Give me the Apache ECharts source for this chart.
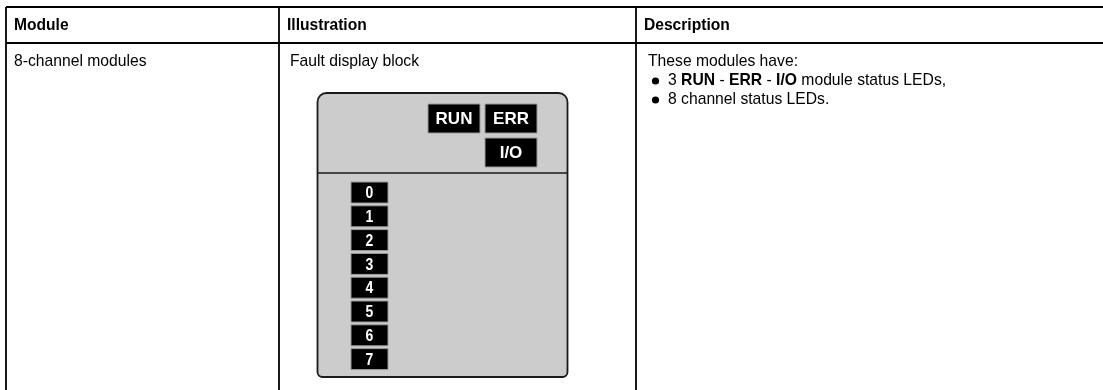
<!DOCTYPE html>
<html><head><meta charset="utf-8">
<script src="https://cdn.jsdelivr.net/npm/echarts@6/dist/echarts.min.js"></script>
<style>html,body{margin:0;padding:0;background:#fff}#c{width:1103px;height:390px}</style>
</head><body><div id="c"></div>
<script>
// ---- content ----
const headers = ['Module', 'Illustration', 'Description'];
const moduleNames = ['8-channel modules'];
const illustrationTitles = ['Fault display block'];
const descIntro = ['These modules have:'];
const descBullets = [
  '3 {b|RUN} - {b|ERR} - {b|I/O} module status LEDs,',
  '8 channel status LEDs.'
];
const statusLeds = ['RUN', 'ERR', 'I/O'];
const channelLeds = ['0', '1', '2', '3', '4', '5', '6', '7'];

(function () {
// ---- layout ----
const W = 1103, H = 390;
const FONT = '"Liberation Sans", Arial, Helvetica, sans-serif';
const tTop = 7, headBottom = 43, tLeft = 6;
const colX = [tLeft, 279, 636];
const pad = 8;
const lineW = 1.8;
const els = [];

// table lines
els.push({type: 'line', shape: {x1: tLeft, y1: tTop, x2: W, y2: tTop}, style: {stroke: '#000', lineWidth: lineW}});
els.push({type: 'line', shape: {x1: tLeft, y1: headBottom, x2: W, y2: headBottom}, style: {stroke: '#000', lineWidth: lineW}});
colX.forEach(x => els.push({type: 'line', shape: {x1: x, y1: tTop, x2: x, y2: H}, style: {stroke: '#000', lineWidth: lineW}}));

// headers
headers.forEach((h, i) => els.push({type: 'text', x: colX[i] + pad, y: (tTop + headBottom) / 2 + 1,
  style: {text: h, font: 'bold 15.6px ' + FONT, fill: '#000', verticalAlign: 'middle'}}));

const rowY = 62;
const bodyFont = '15.7px ' + FONT;
const boldFont = 'bold 15.7px ' + FONT;
els.push({type: 'text', x: colX[0] + pad, y: rowY, style: {text: moduleNames[0], font: bodyFont, fill: '#000', verticalAlign: 'middle'}});
els.push({type: 'text', x: colX[1] + 11, y: rowY, style: {text: illustrationTitles[0], font: bodyFont, fill: '#000', verticalAlign: 'middle'}});
els.push({type: 'text', x: colX[2] + 12, y: rowY, style: {text: descIntro[0], font: bodyFont, fill: '#000', verticalAlign: 'middle'}});
descBullets.forEach((t, i) => {
  const y = rowY + 19 * (i + 1);
  els.push({type: 'circle', shape: {cx: colX[2] + 19.5, cy: y, r: 3.6}, style: {fill: '#000'}});
  els.push({type: 'text', x: colX[2] + 32, y: y, style: {text: t, font: bodyFont, fill: '#000', verticalAlign: 'middle',
    rich: {b: {font: boldFont, fill: '#000'}}}});
});

// illustration panel
const px = 317.5, py = 93, pw = 250, ph = 284, divY = 173;
els.push({type: 'rect', shape: {x: px, y: py, width: pw, height: ph, r: [9, 9, 5, 5]}, style: {fill: '#cccccc', stroke: '#1a1a1a', lineWidth: 1.8}});
els.push({type: 'line', shape: {x1: px, y1: divY, x2: px + pw, y2: divY}, style: {stroke: '#1a1a1a', lineWidth: 1.3}});

// status LEDs: grid positions (col,row)
const statusPos = [[0, 0], [1, 0], [1, 1]];
const sx0 = 428, sy0 = 104, sw = 52, sh = 29, sgx = 57, sgy = 34;
statusLeds.forEach((lab, i) => {
  const c = statusPos[i][0], r = statusPos[i][1];
  const x = sx0 + c * sgx, y = sy0 + r * sgy;
  els.push({type: 'rect', shape: {x: x, y: y, width: sw, height: sh}, style: {fill: '#000', stroke: '#9a9a9a', lineWidth: 1}});
  els.push({type: 'text', x: x + sw / 2, y: y + sh / 2 + 1, style: {text: lab, font: 'bold 17px ' + FONT, fill: '#fff', align: 'center', verticalAlign: 'middle'}});
});

// channel LEDs
const cx0 = 351, cy0 = 182, cw = 37, ch = 21, cp = 23.8;
channelLeds.forEach((lab, i) => {
  const y = cy0 + i * cp;
  els.push({type: 'rect', shape: {x: cx0, y: y, width: cw, height: ch}, style: {fill: '#000', stroke: '#9a9a9a', lineWidth: 1}});
  els.push({type: 'text', x: cx0 + cw / 2, y: y + ch / 2 + 1, scaleX: 0.82,
    style: {text: lab, font: 'bold 17px ' + FONT, fill: '#fff', align: 'center', verticalAlign: 'middle'}});
});

const chart = echarts.init(document.getElementById('c'), null, {renderer: 'canvas'});
chart.setOption({backgroundColor: '#fff', animation: false, graphic: {elements: els}});
})();
</script></body></html>
